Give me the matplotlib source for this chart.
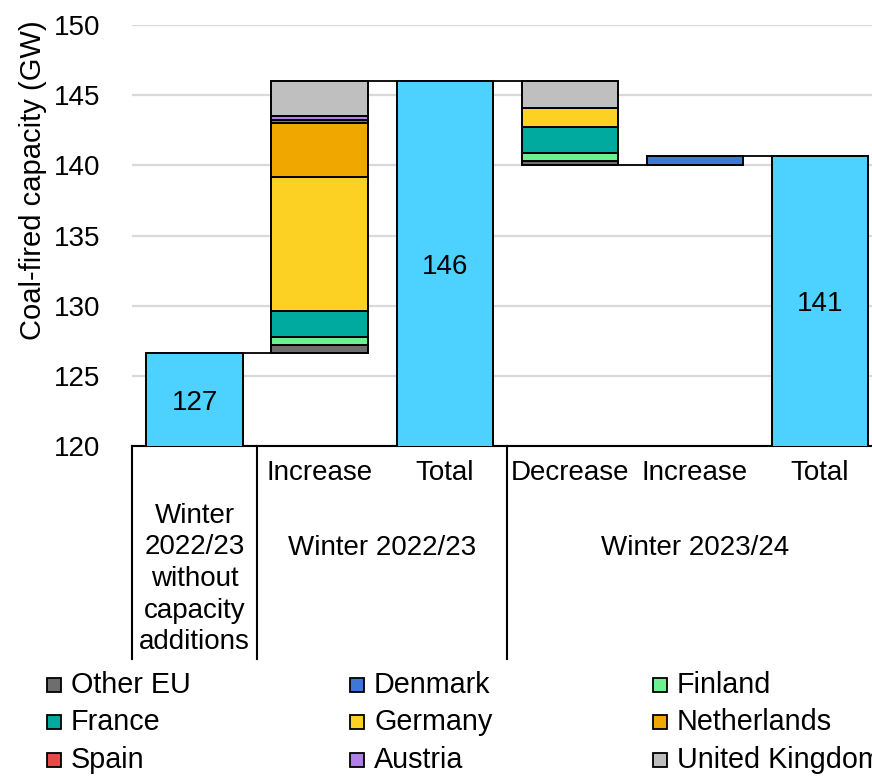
import numpy as np
import matplotlib.pyplot as plt
from matplotlib.patches import Rectangle

plt.rcParams['font.family'] = ['Liberation Sans', 'DejaVu Sans']
plt.rcParams['font.size'] = 20

# data (GW)

countries = ['Other EU', 'Denmark', 'Finland', 'France', 'Germany',
             'Netherlands', 'Spain', 'Austria', 'United Kingdom']
colors = ['#6E6E6E', '#3B78D8', '#6EF08E', '#00AA9E', '#FDD123',
          '#F0A800', '#E84A4A', '#B07FEA', '#BFBFBF']
total_color = '#4DD2FF'

base_2223 = 126.6
increase_2223 = [0.6, 0.0, 0.6, 1.8, 9.6, 3.8, 0.25, 0.25, 2.5]
decrease_2324 = [0.3, 0.0, 0.6, 1.8, 1.4, 0.0, 0.0, 0.0, 1.9]
increase_2324 = [0.0, 0.7, 0.0, 0.0, 0.0, 0.0, 0.0, 0.0, 0.0]

step_labels = ['', 'Increase', 'Total', 'Decrease', 'Increase', 'Total']
group_labels = ['Winter\n2022/23\nwithout\ncapacity\nadditions',
                'Winter 2022/23', 'Winter 2023/24']
group_centers = [0, 1.5, 4]
group_edges = [-0.5, 0.5, 2.5, 5.5]

total_2223 = base_2223 + sum(increase_2223)
after_decrease = total_2223 - sum(decrease_2324)
total_2324 = after_decrease + sum(increase_2324)

fig = plt.figure(figsize=(8.72, 7.76), dpi=100)
ax = fig.add_axes([132 / 872, 1 - 446 / 776, 750.5 / 872, 421 / 776])

width = 0.77
edge = dict(edgecolor='black', linewidth=1.4, zorder=3)

# total bars
totals = {0: base_2223, 2: total_2223, 5: total_2324}
for x, v in totals.items():
    ax.bar(x, v, width, color=total_color, **edge)
    ax.text(x, (120 + v) / 2 - 0.25, f'{v:.0f}', ha='center', va='center',
            fontsize=20, zorder=4)

# stacked steps


def stack(x, values, bottom):
    for name, c, v in zip(countries, colors, values):
        if v == 0:
            continue
        ax.bar(x, v, width, bottom=bottom, color=c, **edge)
        bottom += v


stack(1, increase_2223, base_2223)
stack(3, decrease_2324, after_decrease)
stack(4, increase_2324, after_decrease)

# connectors
connectors = [(0, 1, base_2223), (1, 2, total_2223), (2, 3, total_2223),
              (3, 4, after_decrease), (4, 5, total_2324)]
for x0, x1, y in connectors:
    ax.plot([x0 + width / 2, x1 - width / 2], [y, y], color='black',
            lw=1.3, zorder=2)

ax.set_xlim(-0.5, 5.5)
ax.set_ylim(120, 150)
ax.set_yticks(np.arange(120, 151, 5))
ax.yaxis.grid(True, color='#D9D9D9', lw=1.6, zorder=0)
ax.set_axisbelow(True)
ax.tick_params(axis='y', length=0, pad=23, labelsize=20)
ax.set_xticks([])
for s in ['left', 'right', 'top']:
    ax.spines[s].set_visible(False)
ax.spines['bottom'].set_linewidth(1.5)

# two-level category axis
trans = ax.get_xaxis_transform()
for x, lab in enumerate(step_labels):
    ax.text(x, -0.065, lab, transform=trans, ha='center', va='center',
            fontsize=20)
ax.text(group_centers[0], -0.316, group_labels[0], transform=trans,
        ha='center', va='center', fontsize=20, linespacing=1.28)
for x, lab in zip(group_centers[1:], group_labels[1:]):
    ax.text(x, -0.243, lab, transform=trans, ha='center', va='center',
            fontsize=20)
for x in group_edges:
    ax.plot([x, x], [0, -0.506], transform=trans, color='black', lw=1.5,
            clip_on=False)

fig.text(33 / 872, 1 - 180 / 776, 'Coal-fired capacity (GW)', rotation=90,
         ha='center', va='center', fontsize=21)

# legend (row-wise, 3 columns)
col_x = [47, 350, 653]
row_y = [685, 722, 760]
sq = 14
for i, (name, c) in enumerate(zip(countries, colors)):
    px = col_x[i % 3]
    py = row_y[i // 3]
    fig.add_artist(Rectangle((px / 872, 1 - (py + sq / 2) / 776),
                             sq / 872, sq / 776, facecolor=c,
                             edgecolor='black', lw=1.3,
                             transform=fig.transFigure))
    fig.text((px + 24) / 872, 1 - py / 776, name, ha='left',
             va='center', fontsize=20.7)

fig.savefig('out.png', dpi=100)
